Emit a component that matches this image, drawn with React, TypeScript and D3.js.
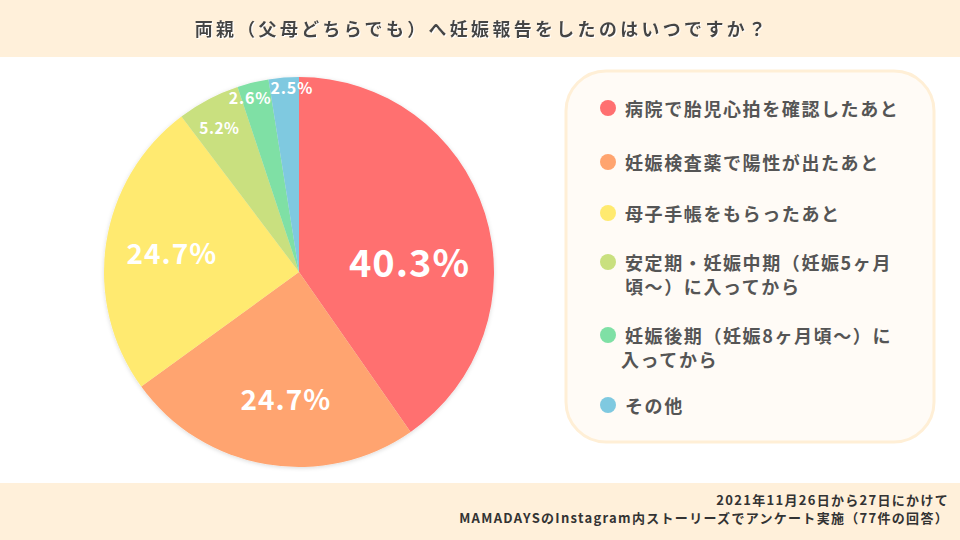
import React from "react";
import * as d3 from "d3";

const categories = [
  "病院で胎児心拍を確認したあと",
  "妊娠検査薬で陽性が出たあと",
  "母子手帳をもらったあと",
  "安定期・妊娠中期（妊娠5ヶ月頃〜）に入ってから",
  "妊娠後期（妊娠8ヶ月頃〜）に入ってから",
  "その他",
];
const legendLines = [
  ["病院で胎児心拍を確認したあと"],
  ["妊娠検査薬で陽性が出たあと"],
  ["母子手帳をもらったあと"],
  ["安定期・妊娠中期（妊娠5ヶ月", "頃〜）に入ってから"],
  ["妊娠後期（妊娠8ヶ月頃〜）に", "入ってから"],
  ["その他"],
];
const values = [40.3, 24.7, 24.7, 5.2, 2.6, 2.5];
const colors = ["#FF6F70", "#FFA46F", "#FFEA6F", "#C9E07F", "#7FE0A5", "#7FC9E0"];
const title = "両親（父母どちらでも）へ妊娠報告をしたのはいつですか？";
const footer = ["2021年11月26日から27日にかけて", "MAMADAYSのInstagram内ストーリーズでアンケート実施（77件の回答）"];

const FONT = "'Noto Sans CJK JP', 'Noto Sans', sans-serif";

export default function App() {
  const W = 960, H = 540;
  const cx = 299, cy = 272, R = 195;
  const pie = d3.pie<number>().sort(null).value((d) => d);
  const arcs = pie(values);
  const arc = d3.arc<d3.PieArcDatum<number>>().innerRadius(0).outerRadius(R);
  const labelCfg = [
    { r: 0.57, da: 11.3, size: 38, ls: 1 },
    { r: 0.65, da: -3.6, size: 28, ls: 1 },
    { r: 0.66, da: 0.5, size: 28, ls: 1 },
    { r: 0.85, da: -1, size: 15.5, ls: 0.5 },
    { r: 0.93, da: -2, size: 16, ls: 0.8 },
    { r: 0.95, da: 2.3, size: 16, ls: 0.8 },
  ];
  const legendY = [108, 162, 213, 262, 335, 405];
  return (
    <svg width={W} height={H} style={{ position: "absolute", left: 0, top: 0 }} fontFamily={FONT}>
      <defs>
        <filter id="sh" x="-20%" y="-20%" width="140%" height="140%">
          <feDropShadow dx="0" dy="1" stdDeviation="2" floodColor="#000" floodOpacity="0.15" />
        </filter>
        <filter id="ts" x="-5%" y="-20%" width="110%" height="140%">
          <feDropShadow dx="1" dy="1" stdDeviation="0" floodColor="#fff" floodOpacity="1" />
        </filter>
      </defs>
      <rect x={0} y={0} width={W} height={H} fill="#ffffff" />
      <rect x={0} y={0} width={W} height={57} fill="#FFF0DA" />
      <text x={482} y={36} textAnchor="middle" fontSize={18} fontWeight="bold" fill="#444" letterSpacing={3.3} filter="url(#ts)">
        {title}
      </text>
      <rect x={0} y={483} width={W} height={57} fill="#FFF0DA" />
      {footer.map((t, i) => (
        <text key={i} x={949} y={505 + i * 18} textAnchor="end" fontSize={13} fontWeight="bold" fill="#333" letterSpacing={1.3}>
          {t}
        </text>
      ))}
      <g transform={`translate(${cx},${cy})`} filter="url(#sh)">
        {arcs.map((a, i) => (
          <path key={i} d={arc(a) || ""} fill={colors[i]} />
        ))}
      </g>
      <g transform={`translate(${cx},${cy})`}>
        {arcs.map((a, i) => {
          const mid = (a.startAngle + a.endAngle) / 2 + (labelCfg[i].da * Math.PI) / 180;
          const r = R * labelCfg[i].r;
          const x = Math.sin(mid) * r;
          const y = -Math.cos(mid) * r;
          return (
            <text key={i} x={x} y={y} textAnchor="middle" dominantBaseline="central" fontSize={labelCfg[i].size} fontWeight="bold" fill="#fff" letterSpacing={labelCfg[i].ls}>
              {values[i].toFixed(1)}%
            </text>
          );
        })}
      </g>
      <rect x={566} y={71} width={368} height={371} rx={40} ry={40} fill="#FFFBF6" stroke="#FFEFD6" strokeWidth={3} />
      {categories.map((c, i) => (
        <g key={c}>
          <circle cx={608} cy={legendY[i]} r={8} fill={colors[i]} />
          {legendLines[i].map((l, j) => (
            <text key={j} x={i === 4 && j === 1 ? 621 : 625} y={legendY[i] + j * 24} dominantBaseline="central" fontSize={18} fontWeight="bold" fill="#555" letterSpacing={1.6}>
              {l}
            </text>
          ))}
        </g>
      ))}
    </svg>
  );
}
